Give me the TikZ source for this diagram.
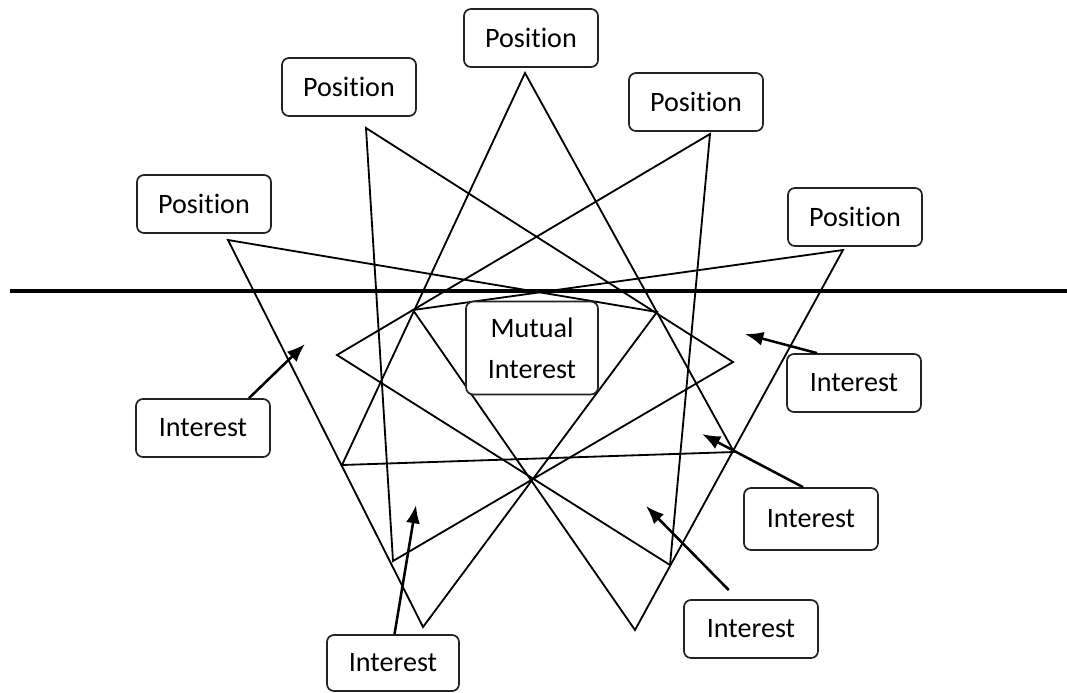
\documentclass[tikz,border=0pt]{standalone}
\usepackage{fontspec}
\setmainfont{Carlito}[Ligatures=NoCommon]
\usetikzlibrary{arrows.meta}
\definecolor{D}{RGB}{35, 35, 35}
\tikzset{
  labelbox/.style={draw=D, line width=1.2pt, rounded corners=5pt, fill=white,
    minimum width=3.35cm, minimum height=1.45cm, align=center,
    font=\fontsize{20}{29}\selectfont},
  pointer/.style={-{Latex[length=13pt,width=10pt]}, line width=1.8pt},
}

\begin{document}
\begin{tikzpicture}[x=0.025cm, y=-0.025cm]
   \useasboundingbox (0,0) rectangle (1067,692);
   % the dividing line
   \draw[black, line width=2.3pt] (10,291) -- (1067,291);
   % five triangles
   \draw[black, line width=1.3pt] (525,73) -- (342,465) -- (734,452) -- cycle;
   \draw[black, line width=1.3pt] (366,128) -- (733,362) -- (393,561) -- cycle;
   \draw[black, line width=1.3pt] (710,134) -- (337,355) -- (670,565) -- cycle;
   \draw[black, line width=1.3pt] (228,240) -- (657,312) -- (423,627) -- cycle;
   \draw[black, line width=1.3pt] (843,250) -- (413,310) -- (635,630) -- cycle;
   % positions
   \node[labelbox] (posTop) at (531,38) {Position};
   \node[labelbox] (posUL) at (349,87) {Position};
   \node[labelbox] (posUR) at (696,102) {Position};
   \node[labelbox] (posL) at (204,204) {Position};
   \node[labelbox] (posR) at (855,217) {Position};
   \node[labelbox, minimum width=3.3cm, minimum height=2.32cm] (mutual) at (532,348) {Mutual\\Interest};
   % interests
   \node[labelbox] (intL) at (203,428) {Interest};
   \node[labelbox] (intR) at (854,383) {Interest};
   \node[labelbox, minimum height=1.55cm] (intRL) at (811,519) {Interest};
   \node[labelbox] (intBR) at (751,629) {Interest};
   \node[labelbox, minimum width=3.3cm, minimum height=1.4cm] (intB) at (393,663) {Interest};
   \coordinate (tipL) at (305,344);
   \coordinate (tipR) at (745,334);
   \coordinate (tipRL) at (702,434);
   \coordinate (tipBR) at (646,506);
   \coordinate (tipB) at (416,505);
   \draw[pointer] (intL.33) -- (tipL);
   \draw[pointer] (intR.141) -- (tipR);
   \draw[pointer] (intRL.104) -- (tipRL);
   \draw[pointer, shorten <=0.32cm] (intBR.114) -- (tipBR);
   \draw[pointer] (intB.87) -- (tipB);
\end{tikzpicture}
\end{document}
